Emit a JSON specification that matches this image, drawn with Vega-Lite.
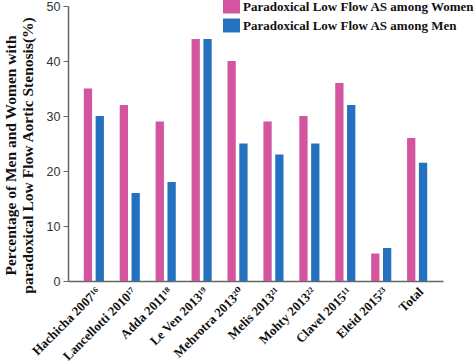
{
  "$schema": "https://vega.github.io/schema/vega-lite/v6.json",
  "width": 375,
  "height": 275,
  "autosize": {"type": "none"},
  "padding": {"left": 68, "top": 6, "right": 31, "bottom": 82},
  "background": "white",
  "config": {"view": {"stroke": null}},
  "data": {"values": [
    {"study": "Hachicha 2007¹⁶", "group": "Paradoxical Low Flow AS among Women", "pct": 35},
    {"study": "Hachicha 2007¹⁶", "group": "Paradoxical Low Flow AS among Men", "pct": 30},
    {"study": "Lancellotti 2010¹⁷", "group": "Paradoxical Low Flow AS among Women", "pct": 32},
    {"study": "Lancellotti 2010¹⁷", "group": "Paradoxical Low Flow AS among Men", "pct": 16},
    {"study": "Adda 2011¹⁸", "group": "Paradoxical Low Flow AS among Women", "pct": 29},
    {"study": "Adda 2011¹⁸", "group": "Paradoxical Low Flow AS among Men", "pct": 18},
    {"study": "Le Ven 2013¹⁹", "group": "Paradoxical Low Flow AS among Women", "pct": 44},
    {"study": "Le Ven 2013¹⁹", "group": "Paradoxical Low Flow AS among Men", "pct": 44},
    {"study": "Mehrotra 2013²⁰", "group": "Paradoxical Low Flow AS among Women", "pct": 40},
    {"study": "Mehrotra 2013²⁰", "group": "Paradoxical Low Flow AS among Men", "pct": 25},
    {"study": "Melis 2013²¹", "group": "Paradoxical Low Flow AS among Women", "pct": 29},
    {"study": "Melis 2013²¹", "group": "Paradoxical Low Flow AS among Men", "pct": 23},
    {"study": "Mohty 2013²²", "group": "Paradoxical Low Flow AS among Women", "pct": 30},
    {"study": "Mohty 2013²²", "group": "Paradoxical Low Flow AS among Men", "pct": 25},
    {"study": "Clavel 2015¹¹", "group": "Paradoxical Low Flow AS among Women", "pct": 36},
    {"study": "Clavel 2015¹¹", "group": "Paradoxical Low Flow AS among Men", "pct": 32},
    {"study": "Eleid 2015²³", "group": "Paradoxical Low Flow AS among Women", "pct": 5},
    {"study": "Eleid 2015²³", "group": "Paradoxical Low Flow AS among Men", "pct": 6},
    {"study": "Total", "group": "Paradoxical Low Flow AS among Women", "pct": 26},
    {"study": "Total", "group": "Paradoxical Low Flow AS among Men", "pct": 21.5}
  ]},
  "mark": {"type": "bar"},
  "encoding": {
    "x": {
      "field": "study", "type": "nominal", "sort": null,
      "scale": {"paddingInner": 0.44, "paddingOuter": 0.44},
      "axis": {
        "title": null, "labelAngle": -45, "ticks": false,
        "labelFont": "Liberation Serif, DejaVu Serif", "labelFontWeight": "bold", "labelFontSize": 13,
        "labelColor": "#111", "labelPadding": 4,
        "domainColor": "#666", "domainWidth": 1.5, "labelLimit": 200
      }
    },
    "xOffset": {
      "field": "group", "type": "nominal",
      "scale": {"domain": ["Paradoxical Low Flow AS among Women", "Paradoxical Low Flow AS among Men"], "paddingInner": 0.3, "paddingOuter": 0}
    },
    "y": {
      "field": "pct", "type": "quantitative",
      "scale": {"domain": [0, 50], "nice": false},
      "axis": {
        "values": [0, 10, 20, 30, 40, 50], "grid": false,
        "title": ["Percentage of Men and Women with", "paradoxical Low Flow Aortic Stenosis(%)"],
        "titleFont": "Liberation Serif", "titleFontWeight": "bold", "titleFontSize": 15.5,
        "titleColor": "#111", "titleLineHeight": 17, "titlePadding": 11, "titleY": 149,
        "labelFont": "Liberation Sans", "labelFontSize": 12.5, "labelColor": "#333",
        "domainColor": "#666", "domainWidth": 1.5, "tickColor": "#666", "tickSize": 5, "labelPadding": 3
      }
    },
    "color": {
      "field": "group", "type": "nominal",
      "scale": {"domain": ["Paradoxical Low Flow AS among Women", "Paradoxical Low Flow AS among Men"], "range": ["#d4559f", "#2371bf"]},
      "legend": {
        "title": null, "orient": "none", "legendX": 155, "legendY": -8, "padding": 0,
        "symbolType": "M-1,-0.82H1V0.82H-1Z", "symbolSize": 289, "symbolStrokeWidth": 0,
        "labelFont": "Liberation Serif", "labelFontWeight": "bold", "labelFontSize": 13,
        "labelColor": "#111", "labelOffset": 3, "rowPadding": 3, "labelLimit": 400
      }
    }
  }
}
